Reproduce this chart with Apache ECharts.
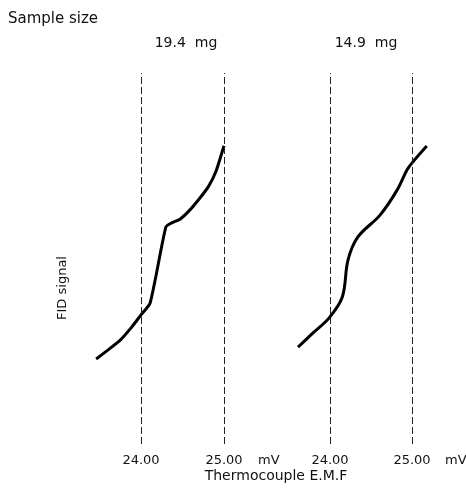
<!DOCTYPE html>
<html>
<head>
<meta charset="utf-8">
<script src="https://cdn.jsdelivr.net/npm/echarts@6/dist/echarts.min.js"></script>
<style>
  html, body { margin: 0; padding: 0; background: #fff; }
  #chart { width: 466px; height: 488px; }
</style>
</head>
<body>
<div id="chart"></div>
<script>
// Sample sizes shown above each panel
const sampleSizes = ['19.4  mg', '14.9  mg'];

// Thermocouple EMF (mV) vs FID signal (arbitrary units, 0-100)
const leftEmf = [23.46, 23.60, 23.75, 23.88, 24.00, 24.11, 24.30, 24.37, 24.47, 24.59, 24.71, 24.81, 24.90, 25.00];
const leftSignal = [22.9, 25.3, 28.0, 31.3, 34.8, 38.0, 58.5, 59.6, 60.6, 63.1, 66.3, 69.3, 73.3, 80.4];

const rightEmf = [23.61, 23.79, 23.99, 24.15, 24.22, 24.34, 24.61, 24.82, 24.94, 25.01, 25.18];
const rightSignal = [26.1, 29.9, 34.0, 39.6, 49.6, 55.8, 61.7, 68.5, 73.9, 76.0, 80.3];

// Reference lines / tick labels
const refLines = [24, 25];
const tickLabels = { 24: '24.00', 25: '25.00' };

const font = 'DejaVu Sans';
const ink = '#111';

const chart = echarts.init(document.getElementById('chart'));

const pair = (xs, ys) => xs.map((x, i) => [x, ys[i]]);

const xAxisBase = {
    type: 'value',
    interval: 1,
    axisLine: { show: false },
    axisTick: { show: false },
    splitLine: { show: false },
    axisLabel: {
        margin: 10,
        color: ink,
        fontFamily: font,
        fontSize: 13,
        formatter: v => tickLabels[v] || ''
    }
};

const yAxisBase = {
    type: 'value',
    min: 0,
    max: 100,
    show: false
};

const dashed = {
    silent: true,
    symbol: 'none',
    label: { show: false },
    lineStyle: { color: '#222', type: [7, 3], width: 1 },
    data: refLines.map(v => ({ xAxis: v }))
};

const curveStyle = { color: '#000', width: 3 };

const option = {
    animation: false,
    backgroundColor: '#fff',
    grid: [
        { left: 58, top: 73, width: 166, height: 371 },
        { left: 248, top: 73, width: 205, height: 371 }
    ],
    xAxis: [
        Object.assign({}, xAxisBase, { gridIndex: 0, min: 23, max: 25 }),
        Object.assign({}, xAxisBase, { gridIndex: 1, min: 23, max: 25.5 })
    ],
    yAxis: [
        Object.assign({}, yAxisBase, { gridIndex: 0 }),
        Object.assign({}, yAxisBase, { gridIndex: 1 })
    ],
    series: [
        {
            type: 'line',
            xAxisIndex: 0,
            yAxisIndex: 0,
            data: pair(leftEmf, leftSignal),
            showSymbol: false,
            smooth: 0.2,
            lineStyle: curveStyle,
            markLine: dashed
        },
        {
            type: 'line',
            xAxisIndex: 1,
            yAxisIndex: 1,
            data: pair(rightEmf, rightSignal),
            showSymbol: false,
            smooth: 0.35,
            lineStyle: curveStyle,
            markLine: dashed
        }
    ],
    graphic: [
        {
            type: 'text', x: 8, y: 19,
            style: { text: 'Sample size', font: '15px ' + font, fill: ink, textVerticalAlign: 'middle' }
        },
        {
            type: 'text', x: 186, y: 43,
            style: { text: sampleSizes[0], font: '14px ' + font, fill: ink, textAlign: 'center', textVerticalAlign: 'middle' }
        },
        {
            type: 'text', x: 366, y: 43,
            style: { text: sampleSizes[1], font: '14px ' + font, fill: ink, textAlign: 'center', textVerticalAlign: 'middle' }
        },
        {
            type: 'text', x: 258, y: 461,
            style: { text: 'mV', font: '13px ' + font, fill: ink, textVerticalAlign: 'middle' }
        },
        {
            type: 'text', x: 445, y: 461,
            style: { text: 'mV', font: '13px ' + font, fill: ink, textVerticalAlign: 'middle' }
        },
        {
            type: 'text', x: 276, y: 476,
            style: { text: 'Thermocouple E.M.F', font: '14px ' + font, fill: ink, textAlign: 'center', textVerticalAlign: 'middle' }
        },
        {
            type: 'text', x: 63, y: 288, rotation: Math.PI / 2,
            style: { text: 'FID signal', font: '13px ' + font, fill: ink, textAlign: 'center', textVerticalAlign: 'middle' }
        }
    ]
};

chart.setOption(option);
</script>
</body>
</html>
